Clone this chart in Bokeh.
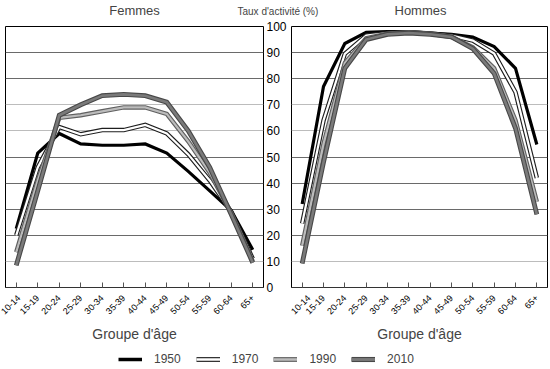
import math
from bokeh.plotting import figure
from bokeh.models import (FactorRange, Range1d, FixedTicker, Grid, Label,
                          Legend, LegendItem, ColumnDataSource)
from bokeh.layouts import column, row
from bokeh.embed import file_html
from bokeh.resources import INLINE

# ---------------- data ----------------
ages = ["10-14", "15-19", "20-24", "25-29", "30-34", "35-39",
        "40-44", "45-49", "50-54", "55-59", "60-64", "65+"]
years = ["1950", "1970", "1990", "2010"]
y_ticks = [0, 10, 20, 30, 40, 50, 60, 70, 80, 90, 100]

femmes_1950 = [22.5, 51.5, 59.0, 55.0, 54.5, 54.5, 55.0, 51.5, 44.5, 37.0, 29.5, 14.5]
femmes_1970 = [20.0, 46.0, 61.5, 58.7, 60.3, 60.3, 62.3, 59.0, 51.0, 41.0, 29.0, 11.0]
femmes_1990 = [13.5, 41.0, 65.0, 66.0, 67.5, 69.0, 69.0, 66.5, 56.0, 44.0, 28.5, 10.0]
femmes_2010 = [8.5, 37.0, 66.0, 70.0, 73.5, 74.0, 73.5, 71.0, 60.0, 46.0, 28.0, 9.5]

hommes_1950 = [32.0, 77.0, 93.5, 97.8, 98.0, 98.0, 97.5, 97.0, 96.0, 92.3, 84.0, 54.8]
hommes_1970 = [24.5, 64.0, 89.5, 96.5, 97.5, 97.8, 97.3, 96.5, 94.6, 89.6, 74.8, 42.0]
hommes_1990 = [16.0, 55.0, 86.0, 95.5, 97.2, 97.8, 97.2, 96.0, 92.0, 84.0, 64.0, 32.8]
hommes_2010 = [9.2, 48.0, 84.0, 95.0, 97.0, 97.5, 97.0, 96.0, 91.5, 82.0, 61.0, 28.0]

femmes = [femmes_1950, femmes_1970, femmes_1990, femmes_2010]
hommes = [hommes_1950, hommes_1970, hommes_1990, hommes_2010]

# style per year: (outer color, outer width, inner color, inner width)
styles = [
    ("black", 3.2, None, 0),
    ("#1e1e1e", 4.5, "white", 2.2),
    ("#606060", 4.5, "#bcbcbc", 2.2),
    ("#484848", 4.8, "#7a7a7a", 2.6),
]

FONT = "Liberation Sans"


def draw_series(p, x, y, st):
    oc, ow, ic, iw = st
    rs = [p.line(x=x, y=y, line_color=oc, line_width=ow, line_join="miter")]
    if ic is not None:
        rs.append(p.line(x=x, y=y, line_color=ic, line_width=iw, line_join="miter"))
    return rs


def make_panel(data, left_border, right_border, frame_w, yaxis_right):
    p = figure(x_range=FactorRange(*ages), y_range=Range1d(0, 100),
               frame_width=frame_w, frame_height=261,
               min_border_left=left_border, min_border_right=right_border,
               min_border_top=7, min_border_bottom=55,
               y_axis_location="right" if yaxis_right else None,
               output_backend="svg", toolbar_location=None)
    p.outline_line_color = "black"
    p.outline_line_width = 1
    p.xgrid.visible = False
    p.ygrid.visible = False
    for ticks, col in (([20, 30, 40, 50, 80, 90], "#6a6a6a"),
                       ([10, 60, 70], "#bcbcbc")):
        p.add_layout(Grid(dimension=1, ticker=FixedTicker(ticks=ticks),
                          grid_line_color=col, grid_line_width=1))
    xa = p.xaxis[0]
    xa.major_tick_in = 5
    xa.major_tick_out = 0
    xa.major_tick_line_color = "#555555"
    xa.axis_line_color = "#333333"
    xa.major_label_orientation = math.pi / 4
    xa.major_label_standoff = 9
    xa.major_label_text_font = FONT
    xa.major_label_text_font_size = "9px"
    xa.major_label_text_color = "black"
    xa.axis_label = "Groupe d'âge"
    xa.axis_label_text_font = FONT
    xa.axis_label_text_font_size = "14px"
    xa.axis_label_text_font_style = "normal"
    xa.axis_label_standoff = 6
    if yaxis_right:
        ya = p.yaxis[0]
        ya.ticker = FixedTicker(ticks=y_ticks)
        ya.major_tick_in = 0
        ya.major_tick_out = 0
        ya.axis_line_color = None
        ya.major_label_standoff = 3
        ya.major_label_text_font = FONT
        ya.major_label_text_font_size = "12px"
        ya.major_label_text_color = "black"
    for vals, st in zip(data, styles):
        draw_series(p, ages, vals, st)
    return p


p1 = make_panel(femmes, 5, 27, 258, True)
p2 = make_panel(hommes, 1, 1, 256, False)

# ---------------- top strip with titles ----------------
W = 549
top = figure(width=W, height=19, x_range=Range1d(0, W), y_range=Range1d(0, 19),
             min_border=0, x_axis_location=None, y_axis_location=None,
             output_backend="svg", toolbar_location=None)
top.outline_line_color = None
top.xgrid.visible = False
top.ygrid.visible = False
top.add_layout(Label(x=134, y=9.5, text="Femmes", text_align="center",
                     text_baseline="middle", text_font=FONT, text_font_size="13px"))
top.add_layout(Label(x=420, y=9.5, text="Hommes", text_align="center",
                     text_baseline="middle", text_font=FONT, text_font_size="13px"))
top.add_layout(Label(x=237, y=8.5, text="Taux d'activité (%)", text_align="left",
                     text_baseline="middle", text_font=FONT, text_font_size="10px"))

# ---------------- legend strip ----------------
leg = figure(width=W, height=26, x_range=Range1d(0, 1), y_range=Range1d(0, 1),
             min_border=0, x_axis_location=None, y_axis_location=None,
             output_backend="svg", toolbar_location=None)
leg.outline_line_color = None
leg.xgrid.visible = False
leg.ygrid.visible = False
items = []
for yr, st in zip(years, styles):
    src = ColumnDataSource(dict(x=[5, 6], y=[5, 6]))
    oc, ow, ic, iw = st
    rs = [leg.line(x="x", y="y", source=src, line_color=oc, line_width=ow + 0.3)]
    if ic is not None:
        rs.append(leg.line(x="x", y="y", source=src, line_color=ic, line_width=iw + 0.3))
    items.append(LegendItem(label=yr, renderers=rs))
legend = Legend(items=items, orientation="horizontal", location=(118, 5),
                margin=0, padding=0, spacing=15, glyph_width=24, glyph_height=14,
                label_height=14, label_standoff=12, label_text_font=FONT,
                label_text_font_size="12px", border_line_color=None,
                background_fill_alpha=0)
leg.add_layout(legend)

layout = column(top, row(p1, p2), leg)

open("out.html", "w").write(file_html(layout, INLINE))
